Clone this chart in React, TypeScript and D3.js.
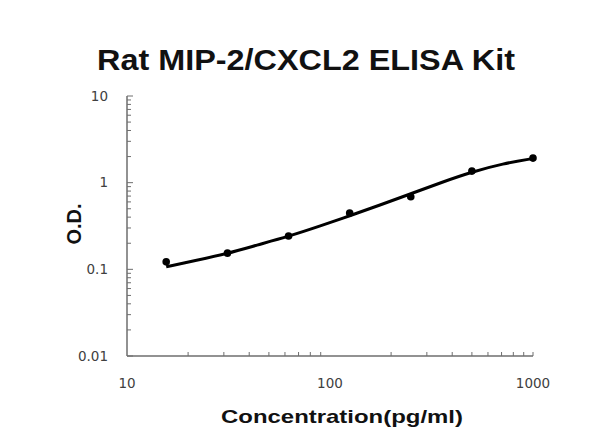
import { useEffect, useRef } from 'react';
import * as d3 from 'd3';

// Standards (pg/ml) and measured O.D.
const concentrations = [15.6, 31.25, 62.5, 125, 250, 500, 1000];
const odValues = [0.122, 0.154, 0.242, 0.447, 0.687, 1.36, 1.92];

// Fitted curve
const curveConc = [15.6, 22, 31.25, 43.5, 62.5, 89, 125, 176, 250, 355, 500, 711, 1000];
const curveOD = [0.107, 0.127, 0.152, 0.19, 0.24, 0.315, 0.415, 0.55, 0.745, 1.01, 1.33, 1.66, 1.9];

const xTicks = [10, 100, 1000];
const yTicks = [0.01, 0.1, 1, 10];

const title = 'Rat MIP-2/CXCL2 ELISA Kit';
const xTitle = 'Concentration(pg/ml)';
const yTitle = 'O.D.';

const W = 600;
const H = 447;

export default function App() {
  const svgRef = useRef<SVGSVGElement>(null);

  useEffect(() => {
    if (!svgRef.current) return;
    const svg = d3.select(svgRef.current);
    svg.selectAll('*').remove();

    const x = d3.scaleLog().domain([10, 1000]).range([127, 533]);
    const y = d3.scaleLog().domain([0.01, 10]).range([356, 96]);

    svg.append('rect').attr('width', W).attr('height', H).attr('fill', '#fff');

    const axisColor = '#6e6e6e';
    const labelColor = '#404040';

    // minor ticks 2..9 of each decade
    const minor = (lo: number, hi: number) => {
      const out: number[] = [];
      for (let d = lo; d < hi; d *= 10) for (let k = 2; k <= 9; k++) out.push(d * k);
      return out;
    };

    // Y axis: ticks point inward (right)
    const yAxis = svg.append('g');
    yAxis.append('line')
      .attr('x1', x(10)).attr('x2', x(10))
      .attr('y1', y(10)).attr('y2', y(0.01))
      .attr('stroke', axisColor).attr('stroke-width', 1.5);
    yAxis.selectAll('.ymin').data(minor(0.01, 10)).join('line')
      .attr('x1', x(10)).attr('x2', x(10) + 4)
      .attr('y1', d => y(d)).attr('y2', d => y(d))
      .attr('stroke', axisColor).attr('stroke-width', 1);
    yAxis.selectAll('.ymaj').data(yTicks).join('line')
      .attr('x1', x(10)).attr('x2', x(10) + 6)
      .attr('y1', d => y(d)).attr('y2', d => y(d))
      .attr('stroke', axisColor).attr('stroke-width', 1);
    yAxis.selectAll('text').data(yTicks).join('text')
      .attr('x', 108)
      .attr('y', d => y(d))
      .attr('dy', '0.35em')
      .attr('text-anchor', 'end')
      .attr('font-family', 'DejaVu Sans, sans-serif')
      .attr('font-size', 13.5)
      .attr('fill', labelColor)
      .text(d => String(d));

    // X axis: ticks point inward (up)
    const xAxis = svg.append('g');
    xAxis.append('line')
      .attr('x1', x(10)).attr('x2', x(1000))
      .attr('y1', y(0.01)).attr('y2', y(0.01))
      .attr('stroke', axisColor).attr('stroke-width', 1.5);
    xAxis.selectAll('.xmin').data([...minor(10, 1000), 1000]).join('line')
      .attr('x1', d => x(d)).attr('x2', d => x(d))
      .attr('y1', y(0.01)).attr('y2', y(0.01) - 4)
      .attr('stroke', axisColor).attr('stroke-width', 1);
    xAxis.selectAll('text').data(xTicks).join('text')
      .attr('x', d => x(d))
      .attr('y', 388)
      .attr('text-anchor', 'middle')
      .attr('font-family', 'DejaVu Sans, sans-serif')
      .attr('font-size', 13.5)
      .attr('fill', labelColor)
      .text(d => String(d));

    // fitted curve
    const line = d3.line<number>()
      .x((_d, i) => x(curveConc[i]))
      .y(d => y(d))
      .curve(d3.curveBasis);
    svg.append('path')
      .datum(curveOD)
      .attr('fill', 'none')
      .attr('stroke', '#000')
      .attr('stroke-width', 3)
      .attr('d', line);

    // points
    svg.selectAll('.dot').data(odValues).join('circle')
      .attr('cx', (_d, i) => x(concentrations[i]))
      .attr('cy', d => y(d))
      .attr('r', 3.8)
      .attr('fill', '#000');

    // titles
    svg.append('text')
      .attr('x', 97).attr('y', 70)
      .attr('font-family', 'Liberation Sans, Arial, sans-serif')
      .attr('font-weight', 'bold')
      .attr('font-size', 29)
      .attr('textLength', 418)
      .attr('lengthAdjust', 'spacingAndGlyphs')
      .attr('fill', '#111')
      .text(title);

    svg.append('text')
      .attr('x', 221).attr('y', 423)
      .attr('font-family', 'Liberation Sans, Arial, sans-serif')
      .attr('font-weight', 'bold')
      .attr('font-size', 19)
      .attr('textLength', 242)
      .attr('lengthAdjust', 'spacingAndGlyphs')
      .attr('fill', '#111')
      .text(xTitle);

    svg.append('text')
      .attr('transform', 'translate(81,224) rotate(-90)')
      .attr('text-anchor', 'middle')
      .attr('font-family', 'Liberation Sans, Arial, sans-serif')
      .attr('font-weight', 'bold')
      .attr('font-size', 20)
      .attr('fill', '#111')
      .text(yTitle);
  }, []);

  return (
    <div style={{ position: 'absolute', left: 0, top: 0 }}>
      <svg ref={svgRef} width={W} height={H} style={{ display: 'block' }} />
    </div>
  );
}
